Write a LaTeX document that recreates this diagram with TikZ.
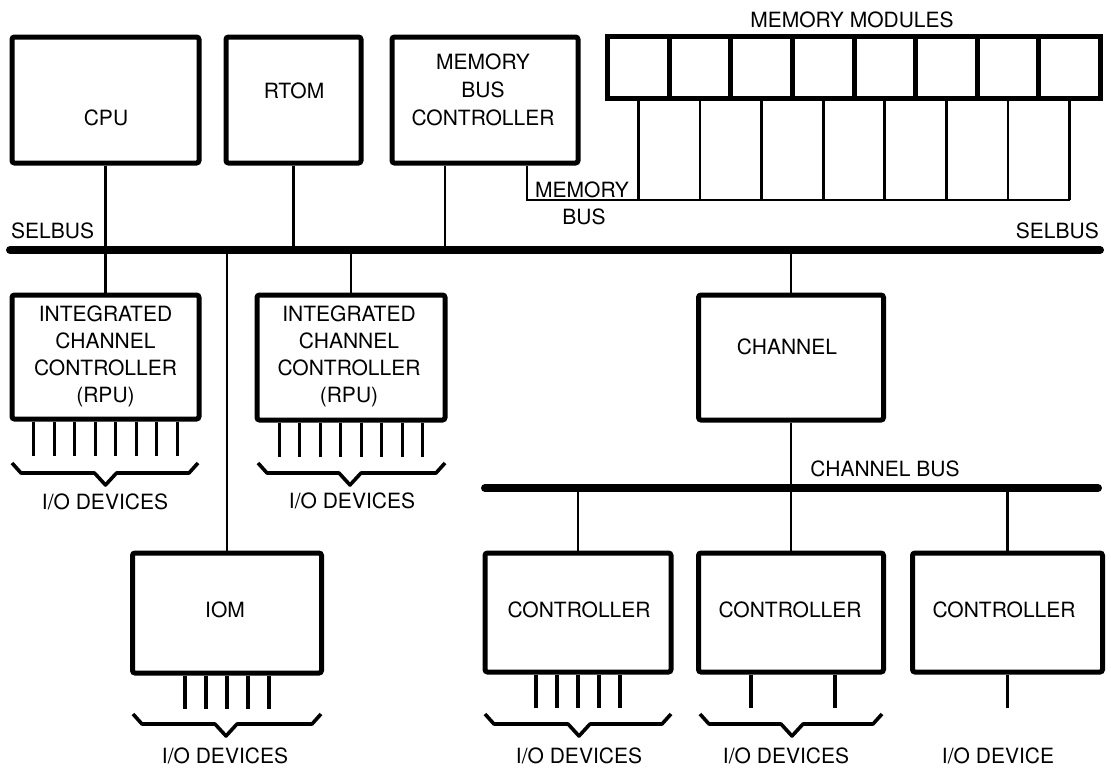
\documentclass[tikz,border=0pt]{standalone}
\usepackage{fontspec}
\setmainfont{TeX Gyre Heros}
\newcommand\iobrace[4]{% #1 left x, #2 right x, #3 tip x, #4 top y
  \draw[brace] (#1,#4) -- ++(9,10) -- (#3-11,#4+10) -- (#3,#4+22) -- (#3+11,#4+10) -- (#2-9,#4+10) -- (#2,#4);}
\begin{document}
\begin{tikzpicture}[x=1pt,y=-1pt,
  box/.style={draw, line width=5pt, rounded corners=2.5pt, inner sep=0pt},
  cell/.style={draw, line width=5pt, inner sep=0pt, minimum width=61.6pt, minimum height=62pt},
  lbl/.style={font=\fontsize{21}{27}\selectfont, inner sep=0pt, align=center},
  wire/.style={line width=2.8pt},
  bus/.style={line width=8pt, line cap=round},
  pin/.style={line width=3.2pt},
  brace/.style={line width=3.6pt, line join=round}
]
\useasboundingbox (0,0) rectangle (1111,774);

% top row boxes
\node[box, minimum width=187pt, minimum height=126pt] (cpu) at (105.5,100) {};
\node[lbl] (cpuT) at (106,118) {CPU};
\node[box, minimum width=135pt, minimum height=126pt] (rtom) at (293.5,100) {};
\node[lbl] (rtomT) at (294,91) {RTOM};
\node[box, minimum width=186pt, minimum height=126pt] (mbc) at (485,100) {};
\node[lbl, font=\fontsize{21}{28}\selectfont] (mbcT) at (483,90) {MEMORY\\BUS\\CONTROLLER};

% memory modules
\foreach \i in {0,...,7}
  \node[cell] (m\i) at ({638.4+61.6*\i},67) {};
\node[lbl] (memT) at (852,20) {MEMORY MODULES};

% memory bus
\coordinate (mbY) at (0,200);
\draw[wire] ([xshift=42pt]mbc.south) |- (m7.south |- mbY);
\foreach \i in {0,...,7}
  \draw[wire] (m\i.south) -- (m\i.south |- mbY);
\node[lbl] (mbT1) at (582,190) {MEMORY};
\node[lbl] (mbT2) at (584,217) {BUS};

% SELBUS
\coordinate (sbL) at (10,250);
\coordinate (sbR) at (1100,250);
\draw[bus] (sbL) -- (sbR);
\node[lbl, anchor=west] (sbT1) at (11,231) {SELBUS};
\node[lbl, anchor=east] (sbT2) at (1099,231) {SELBUS};

% second row
\node[box, minimum width=187pt, minimum height=124pt] (icc1) at (105.5,357) {};
\node[lbl] (icc1T) at (105.5,356) {INTEGRATED\\CHANNEL\\CONTROLLER\\(RPU)};
\node[box, minimum width=188pt, minimum height=125pt] (icc2) at (351,357.5) {};
\node[lbl] (icc2T) at (349,356) {INTEGRATED\\CHANNEL\\CONTROLLER\\(RPU)};
\node[box, minimum width=185pt, minimum height=125pt] (chan) at (791,357.5) {};
\node[lbl] (chanT) at (787,347) {CHANNEL};

% bottom row
\node[box, minimum width=189pt, minimum height=120pt] (iom) at (227,613) {};
\node[lbl] (iomT) at (225,610) {IOM};
\node[box, minimum width=186pt, minimum height=119pt] (c1) at (578,612.5) {};
\node[lbl] (c1T) at (579,610) {CONTROLLER};
\node[box, minimum width=185pt, minimum height=119pt] (c2) at (791,612.5) {};
\node[lbl] (c2T) at (790,610) {CONTROLLER};
\node[box, minimum width=190pt, minimum height=119pt] (c3) at (1007.5,612.5) {};
\node[lbl] (c3T) at (1004,610) {CONTROLLER};

% connectors to SELBUS
\draw[wire] (cpu.south) -- (icc1.north);
\draw[wire] (rtom.south) -- (rtom.south |- sbL);
\draw[wire] ([xshift=-40pt]mbc.south) -- ([xshift=-40pt]mbc.south |- sbL);
\draw[wire] (icc2.north) -- (icc2.north |- sbL);
\draw[wire] (iom.north) -- (iom.north |- sbL);
\draw[wire] (chan.north) -- (chan.north |- sbL);

% channel bus
\coordinate (cbL) at (485,488);
\coordinate (cbR) at (1098,488);
\draw[bus] (cbL) -- (cbR);
\node[lbl] (cbT) at (885,469) {CHANNEL BUS};
\draw[wire] (chan.south) -- (chan.south |- cbL);
\draw[wire] (c1.north) -- (c1.north |- cbL);
\draw[wire] (c2.north) -- (c2.north |- cbL);
\draw[wire] (c3.north) -- (c3.north |- cbL);

% pins
\foreach \d in {-71.75,-51.25,-30.75,-10.25,10.25,30.75,51.25,71.75} {
  \draw[pin] ([xshift=\d pt]icc1.south) -- ++(0,34);
  \draw[pin] ([xshift=\d pt]icc2.south) -- ++(0,34);
}
\foreach \d in {-42,-21,0,21,42} {
  \draw[pin] ([xshift=\d pt]iom.south) -- ++(0,33);
  \draw[pin] ([xshift=\d pt]c1.south) -- ++(0,33);
}
\foreach \d in {-40,44} \draw[pin] ([xshift=\d pt]c2.south) -- ++(0,33);
\draw[pin] (c3.south) -- ++(0,33);

% braces
\iobrace{12}{198}{105.5}{463}
\iobrace{258}{445}{350}{463}
\iobrace{133}{321}{226}{714}
\iobrace{485}{671}{579}{714}
\iobrace{700}{882}{792}{714}

% I/O labels
\node[lbl] (io1) at (105,502) {I/O DEVICES};
\node[lbl] (io2) at (352,501) {I/O DEVICES};
\node[lbl] (io3) at (225,756) {I/O DEVICES};
\node[lbl] (io4) at (579,756) {I/O DEVICES};
\node[lbl] (io5) at (786,756) {I/O DEVICES};
\node[lbl] (io6) at (998,756) {I/O DEVICE};
\end{tikzpicture}
\end{document}
